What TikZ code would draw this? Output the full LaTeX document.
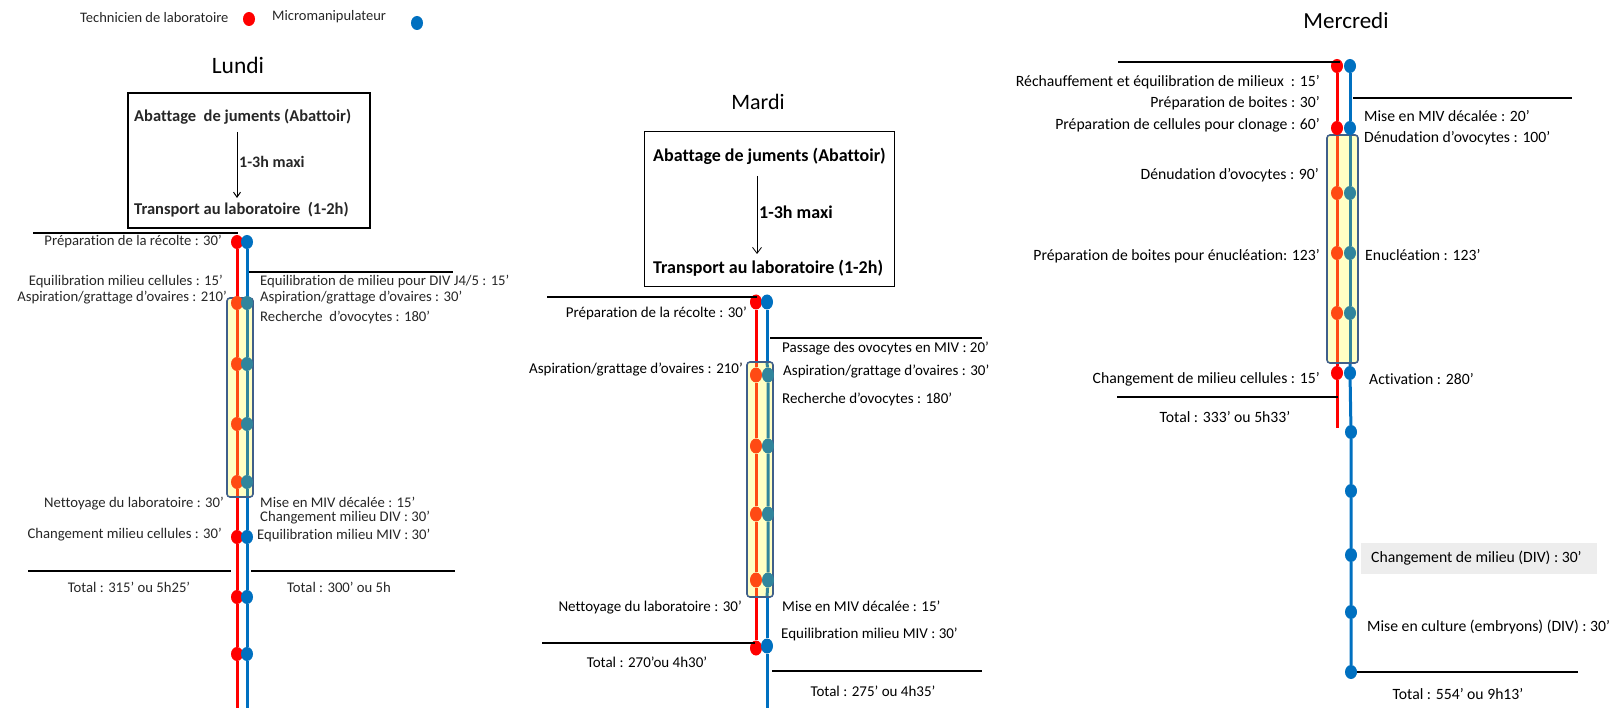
\documentclass[tikz,border=0pt]{standalone}
\usepackage{fontspec}
\setmainfont{Carlito}[Ligatures={NoCommon}]
\usetikzlibrary{shapes.geometric,arrows.meta,backgrounds}
\definecolor{cred}{HTML}{FF0000}
\definecolor{cblue}{HTML}{0070C0}
\definecolor{corange}{HTML}{FF4A14}
\definecolor{cteal}{HTML}{31859C}
\definecolor{cframe}{HTML}{3F5F8A}
\definecolor{cfill}{HTML}{FFFFC4}
\definecolor{cgray}{HTML}{EDEDED}
\begin{document}
\begin{tikzpicture}[x=1pt,y=-1pt,
  lab/.style={inner sep=0pt, font=\fontsize{15}{17}\selectfont, text=black},
  labW/.style={inner sep=0pt, font=\fontsize{15.7}{18}\selectfont, text=black},
  labL/.style={inner sep=0pt, font=\fontsize{14.7}{17}\selectfont, text=black!85},
  boldM/.style={inner sep=0pt, font=\bfseries\fontsize{18}{21}\selectfont},
  boldL/.style={inner sep=0pt, font=\bfseries\fontsize{16.5}{19}\selectfont, text=black!85},
  title/.style={inner sep=0pt, font=\fontsize{22}{26}\selectfont},
  legend/.style={inner sep=0pt, font=\fontsize{14.5}{17}\selectfont, text=black!85},
  Ldot/.style={ellipse, inner sep=0pt, minimum width=12, minimum height=14},
  Mdot/.style={ellipse, inner sep=0pt, minimum width=12, minimum height=15},
  Wdot/.style={ellipse, inner sep=0pt, minimum width=12, minimum height=14},
  rline/.style={cred, line width=3},
  bline/.style={cblue, line width=3},
  oline/.style={corange, line width=3},
  tline/.style={cteal, line width=3},
  rule/.style={black, line width=1.5},
  frame/.style={cframe, line width=1.6, rounded corners=3},
  tbox/.style={draw=black, line width=1.3},
]
\useasboundingbox (0,0) rectangle (1618,711);

% ---------------- legend ----------------
\node[legend, anchor=west] (legT) at (80,18) {Technicien de laboratoire};
\node[Ldot, fill=cred] (legR) at (249,19) {};
\node[legend, anchor=west] (legM) at (272,17) {Micromanipulateur};
\node[Ldot, fill=cblue] (legB) at (417,23) {};

% ---------------- Lundi ----------------
\node[title, font=\fontsize{23.5}{27}\selectfont] (Ltitle) at (238,65) {Lundi};
\node[tbox, minimum width=242, minimum height=135] (Lbox) at (249,160.5) {};
\node[boldL, anchor=west] (Labat) at (134,117) {Abattage~ de juments (Abattoir)};
\node[boldL, anchor=west] (Ltrans) at (134,210) {Transport au laboratoire~ (1-2h)};
\node[boldL, anchor=west, font=\bfseries\fontsize{16}{19}\selectfont] (Lmaxi) at (239,162) {1-3h maxi};
\coordinate (La1) at (237,132);
\coordinate (La2) at (237,198);
\draw[-{Straight Barb[length=5,width=7]}, line width=1] (La1) -- (La2);

\node[Ldot, fill=cred] (L-r0) at (237,242) {};
\node[Ldot, fill=cblue] (L-b0) at (247,242) {};
\foreach \i/\y in {1/303,2/364,3/424,4/482}{
  \node[Ldot, fill=corange] (L-r\i) at (237,\y) {};
  \node[Ldot, fill=cteal] (L-b\i) at (247,\y) {};
}
\foreach \i/\y in {5/537,6/597,7/654}{
  \node[Ldot, fill=cred] (L-r\i) at (237,\y) {};
  \node[Ldot, fill=cblue] (L-b\i) at (247,\y) {};
}
\coordinate (L-rt) at (237,298); \coordinate (L-rb) at (237,497);
\coordinate (L-bt) at (247,298); \coordinate (L-bb) at (247,497);
\coordinate (L-re) at (237,708); \coordinate (L-be) at (247,708);
\begin{pgfonlayer}{background}
  \fill[cfill, rounded corners=3] (227,298) rectangle (253,497);
  \draw[rline] (L-r0) -- (L-rt);
  \draw[oline] (L-rt) -- (L-r1) -- (L-r2) -- (L-r3) -- (L-r4) -- (L-rb);
  \draw[rline] (L-rb) -- (L-r5) -- (L-r6) -- (L-r7) -- (L-re);
  \draw[bline] (L-b0) -- (L-bt);
  \draw[tline] (L-bt) -- (L-b1) -- (L-b2) -- (L-b3) -- (L-b4) -- (L-bb);
  \draw[bline] (L-bb) -- (L-b5) -- (L-b6) -- (L-b7) -- (L-be);
  \draw[frame] (227,298) rectangle (253,497);
\end{pgfonlayer}
\coordinate (Lh1a) at (33,233); \coordinate (Lh1b) at (238,233);
\coordinate (Lh2a) at (249,272); \coordinate (Lh2b) at (453,272);
\coordinate (Lh3a) at (28,571); \coordinate (Lh3b) at (231,571);
\coordinate (Lh4a) at (251,571); \coordinate (Lh4b) at (455,571);
\draw[rule] (Lh1a) -- (Lh1b);
\draw[rule] (Lh2a) -- (Lh2b);
\draw[rule] (Lh3a) -- (Lh3b);
\draw[rule] (Lh4a) -- (Lh4b);

\node[labL, anchor=east] (Ll1) at (222,242) {Préparation de la récolte : 30’};
\node[labL, anchor=east] (Ll2) at (223,282) {Equilibration milieu cellules : 15’};
\node[labL, anchor=east] (Ll3) at (227,298) {Aspiration/grattage d’ovaires : 210’};
\node[labL, anchor=east] (Ll4) at (224,504) {Nettoyage du laboratoire : 30’};
\node[labL, anchor=east] (Ll5) at (222,535) {Changement milieu cellules : 30’};
\node[labL] (Ll6) at (129,587) {Total : 315’ ou 5h25’};
\node[labL, anchor=west] (Lr1) at (260,282) {Equilibration de milieu pour DIV J4/5 : 15’};
\node[labL, anchor=west] (Lr2) at (260,298) {Aspiration/grattage d’ovaires : 30’};
\node[labL, anchor=west] (Lr3) at (260,318) {Recherche~ d’ovocytes : 180’};
\node[labL, anchor=west] (Lr4) at (260,502) {Mise en MIV décalée : 15’};
\node[labL, anchor=west] (Lr5) at (260,518) {Changement milieu DIV : 30’};
\node[labL, anchor=west] (Lr6) at (257,536) {Equilibration milieu MIV : 30’};
\node[labL] (Lr7) at (339,587) {Total : 300’ ou 5h};

% ---------------- Mardi ----------------
\node[title] (Mtitle) at (758,102) {Mardi};
\node[tbox, line width=1, minimum width=250, minimum height=155] (Mbox) at (769,209.5) {};
\node[boldM, anchor=west] (Mabat) at (653,156) {Abattage de juments (Abattoir)};
\node[boldM, anchor=west] (Mtrans) at (653,268) {Transport au laboratoire (1-2h)};
\node[boldM, anchor=west] (Mmaxi) at (759,212) {1-3h maxi};
\coordinate (Ma1) at (757,176);
\coordinate (Ma2) at (757,254);
\draw[-{Straight Barb[length=6,width=9]}, line width=0.8] (Ma1) -- (Ma2);

\node[Mdot, fill=cred] (M-r0) at (756,302) {};
\node[Mdot, fill=cblue] (M-b0) at (767,302) {};
\foreach \i/\y in {1/375,2/446,3/514,4/580}{
  \node[Mdot, fill=corange] (M-r\i) at (756,\y) {};
  \node[Mdot, fill=cteal] (M-b\i) at (768,\y) {};
}
\node[Mdot, fill=cred] (M-r5) at (756,648) {};
\node[Mdot, fill=cblue] (M-b5) at (767,646) {};
\coordinate (M-rt) at (756,362); \coordinate (M-rb) at (756,597);
\coordinate (M-bt) at (767,362); \coordinate (M-bb) at (767,597);
\coordinate (M-be) at (767,708);
\begin{pgfonlayer}{background}
  \fill[cfill, rounded corners=3] (747,362) rectangle (773,597);
  \draw[rline] (M-r0) -- (M-rt);
  \draw[oline] (M-rt) -- (M-r1) -- (M-r2) -- (M-r3) -- (M-r4) -- (M-rb);
  \draw[rline] (M-rb) -- (M-r5);
  \draw[bline] (M-b0) -- (M-bt);
  \draw[tline] (M-bt) -- (M-b1) -- (M-b2) -- (M-b3) -- (M-b4) -- (M-bb);
  \draw[bline] (M-bb) -- (M-b5) -- (M-be);
  \draw[frame] (747,362) rectangle (773,597);
\end{pgfonlayer}
\coordinate (Mh1a) at (547,297); \coordinate (Mh1b) at (757,297);
\coordinate (Mh2a) at (770,338); \coordinate (Mh2b) at (982,338);
\coordinate (Mh3a) at (542,643); \coordinate (Mh3b) at (755,643);
\coordinate (Mh4a) at (772,671); \coordinate (Mh4b) at (982,671);
\draw[rule] (Mh1a) -- (Mh1b);
\draw[rule] (Mh2a) -- (Mh2b);
\draw[rule] (Mh3a) -- (Mh3b);
\draw[rule] (Mh4a) -- (Mh4b);

\node[lab, anchor=east] (Ml1) at (747,313) {Préparation de la récolte : 30’};
\node[lab, anchor=east] (Ml2) at (743,370) {Aspiration/grattage d’ovaires : 210’};
\node[lab, anchor=east] (Ml3) at (742,607) {Nettoyage du laboratoire : 30’};
\node[lab] (Ml4) at (647,662) {Total : 270’ou 4h30’};
\node[lab, anchor=west] (Mr1) at (782,349) {Passage des ovocytes en MIV : 20’};
\node[lab, anchor=west] (Mr2) at (783,372) {Aspiration/grattage d’ovaires : 30’};
\node[lab, anchor=west] (Mr3) at (782,399) {Recherche d’ovocytes : 180’};
\node[lab, anchor=west] (Mr4) at (782,606) {Mise en MIV décalée : 15’};
\node[lab, anchor=west] (Mr5) at (781,634) {Equilibration milieu MIV : 30’};
\node[lab] (Mr6) at (873,691) {Total : 275’ ou 4h35’};

% ---------------- Mercredi ----------------
\node[title, font=\fontsize{23}{27}\selectfont] (Wtitle) at (1346,21) {Mercredi};
\node[Wdot, fill=cred] (W-r0) at (1337,66) {};
\node[Wdot, fill=cblue] (W-b0) at (1350,66) {};
\node[Wdot, fill=cred] (W-r1) at (1337,128) {};
\node[Wdot, fill=cblue] (W-b1) at (1350,128) {};
\foreach \i/\y in {2/193,3/253,4/313}{
  \node[Wdot, fill=corange] (W-r\i) at (1337,\y) {};
  \node[Wdot, fill=cteal] (W-b\i) at (1350,\y) {};
}
\node[Wdot, fill=cred] (W-r5) at (1337,373) {};
\node[Wdot, fill=cblue] (W-b5) at (1350,373) {};
\foreach \i/\y in {6/432,7/491,8/555,9/612,10/672}{
  \node[Wdot, fill=cblue] (W-b\i) at (1351,\y) {};
}
\coordinate (W-rt) at (1337,135); \coordinate (W-rb) at (1337,363);
\coordinate (W-bt) at (1350,135); \coordinate (W-bb) at (1350,363);
\coordinate (W-re) at (1337,428);
\begin{pgfonlayer}{background}
  \fill[cfill, rounded corners=3] (1327,135) rectangle (1358,363);
  \draw[rline] (W-r0) -- (W-r1) -- (W-rt);
  \draw[oline] (W-rt) -- (W-r2) -- (W-r3) -- (W-r4) -- (W-rb);
  \draw[rline] (W-rb) -- (W-r5) -- (W-re);
  \draw[bline] (W-b0) -- (W-b1) -- (W-bt);
  \draw[tline] (W-bt) -- (W-b2) -- (W-b3) -- (W-b4) -- (W-bb);
  \draw[bline] (W-bb) -- (W-b5) -- (W-b6) -- (W-b7) -- (W-b8) -- (W-b9) -- (W-b10);
  \draw[frame] (1327,135) rectangle (1358,363);
\end{pgfonlayer}
\coordinate (Wh1a) at (1118,62); \coordinate (Wh1b) at (1340,62);
\coordinate (Wh2a) at (1353,98); \coordinate (Wh2b) at (1572,98);
\coordinate (Wh3a) at (1117,397); \coordinate (Wh3b) at (1338,397);
\coordinate (Wh4b) at (1578,672);
\draw[rule] (Wh1a) -- (Wh1b);
\draw[rule] (Wh2a) -- (Wh2b);
\draw[rule] (Wh3a) -- (Wh3b);
\draw[rule] (W-b10) -- (Wh4b);

\node[labW, anchor=east] (Wl1) at (1320,82) {Réchauffement et équilibration de milieux~ : 15’};
\node[labW, anchor=east] (Wl2) at (1320,103) {Préparation de boites : 30’};
\node[labW, anchor=east] (Wl3) at (1320,125) {Préparation de cellules pour clonage : 60’};
\node[labW, anchor=east] (Wl4) at (1319,175) {Dénudation d’ovocytes : 90’};
\node[labW, anchor=east] (Wl5) at (1320,256) {Préparation de boites pour énucléation: 123’};
\node[labW, anchor=east] (Wl6) at (1320,379) {Changement de milieu cellules : 15’};
\node[labW] (Wl7) at (1225,417) {Total : 333’ ou 5h33’};
\node[labW, anchor=west] (Wr1) at (1364,116) {Mise en MIV décalée : 20’};
\node[labW, anchor=west] (Wr2) at (1364,138) {Dénudation d’ovocytes : 100’};
\node[labW, anchor=west] (Wr3) at (1365,255) {Enucléation : 123’};
\node[labW, anchor=west] (Wr4) at (1369,379) {Activation : 280’};
\node[fill=cgray, minimum width=236, minimum height=31, inner sep=0pt] (Wgray) at (1479,558.5) {};
\node[labW, anchor=west] (Wr5) at (1371,558) {Changement de milieu (DIV) : 30’};
\node[labW, anchor=west] (Wr6) at (1367,627) {Mise en culture (embryons) (DIV) : 30’};
\node[labW] (Wr7) at (1458,694) {Total : 554’ ou 9h13’};
\end{tikzpicture}
\end{document}
